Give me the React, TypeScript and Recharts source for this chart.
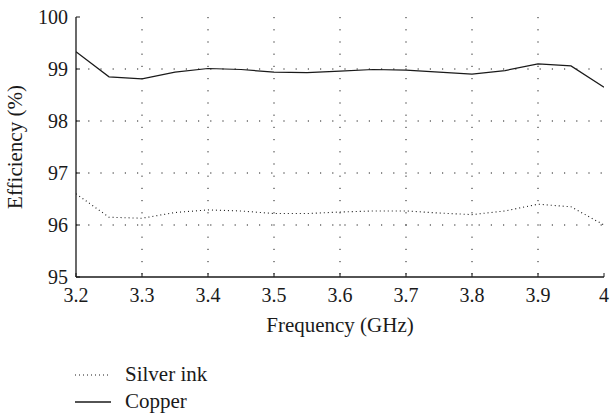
import React from 'react';
import { LineChart, Line, XAxis, YAxis, CartesianGrid, Legend } from 'recharts';

const frequency = [3.2, 3.25, 3.3, 3.35, 3.4, 3.45, 3.5, 3.55, 3.6, 3.65, 3.7, 3.75, 3.8, 3.85, 3.9, 3.95, 4.0];
const copper = [99.33, 98.85, 98.81, 98.94, 99.01, 98.99, 98.94, 98.93, 98.96, 98.99, 98.98, 98.94, 98.9, 98.97, 99.1, 99.06, 98.65];
const silverInk = [96.6, 96.15, 96.13, 96.24, 96.29, 96.27, 96.22, 96.22, 96.25, 96.27, 96.27, 96.23, 96.2, 96.27, 96.4, 96.35, 96.0];
const xTicks = [3.2, 3.3, 3.4, 3.5, 3.6, 3.7, 3.8, 3.9, 4.0];
const yTicks = [95, 96, 97, 98, 99, 100];

const data = frequency.map((f, i) => ({ f, copper: copper[i], silver: silverInk[i] }));

const FONT = '"Liberation Serif"';
const INK = '#1a1a1a';
const CSS = '#root .chart-root, #root .chart-root *, #root .chart-root text, #root .chart-root tspan, #root .chart-root span { font-family: "Liberation Serif", "Times New Roman" !important; }';

const fmtX = (v: number) => (v === 4 ? '4' : v.toFixed(1));

const LegendContent = () => (
  <div style={{ paddingLeft: 75, fontFamily: FONT, fontSize: 21, color: INK, lineHeight: '27px' }}>
    <div style={{ display: 'flex', alignItems: 'center', height: 27 }}>
      <svg width={36} height={10} style={{ marginRight: 14 }}>
        <line x1={0} y1={5} x2={36} y2={5} stroke={INK} strokeWidth={1} strokeDasharray="1 3" />
      </svg>
      <span>Silver ink</span>
    </div>
    <div style={{ display: 'flex', alignItems: 'center', height: 27 }}>
      <svg width={36} height={10} style={{ marginRight: 14 }}>
        <line x1={0} y1={5} x2={36} y2={5} stroke={INK} strokeWidth={1.3} />
      </svg>
      <span>Copper</span>
    </div>
  </div>
);

export default function App() {
  return (
    <div className="chart-root" style={{ position: 'absolute', left: 0, top: 0, width: 610, height: 415, fontFamily: FONT }}>
      <style>{CSS}</style>
      <LineChart
        width={610}
        height={415}
        data={data}
        margin={{ top: 17, right: 6, bottom: 0, left: 0 }}
        style={{ fontFamily: FONT }}
      >
        <CartesianGrid stroke={INK} strokeDasharray="1.2 11" horizontalValues={[96, 97, 98, 99]} verticalValues={[3.3, 3.4, 3.5, 3.6, 3.7, 3.8, 3.9]} />
        <XAxis
          dataKey="f"
          type="number"
          domain={[3.2, 4]}
          ticks={xTicks}
          interval={0}
          tickFormatter={fmtX}
          allowDataOverflow
          height={84}
          stroke={INK}
          axisLine={{ stroke: INK, strokeWidth: 1.3 }}
          tickSize={-4}
          tickMargin={15}
          tick={{ fill: INK, fontSize: 20, fontFamily: FONT }}
          label={{ value: 'Frequency (GHz)', position: 'insideTop', offset: 40, fill: INK, fontSize: 21, fontFamily: FONT }}
        />
        <XAxis
          xAxisId="top"
          dataKey="f"
          type="number"
          orientation="top"
          domain={[3.2, 4]}
          ticks={xTicks}
          interval={0}
          allowDataOverflow
          height={0}
          stroke={INK}
          axisLine={{ stroke: INK, strokeWidth: 1.3 }}
          tickSize={-4}
          tick={() => <g />}
        />
        <YAxis
          type="number"
          domain={[95, 100]}
          ticks={yTicks}
          interval={0}
          allowDataOverflow
          width={76}
          stroke={INK}
          axisLine={{ stroke: INK, strokeWidth: 1.3 }}
          tickSize={-4}
          tickMargin={12}
          tick={{ fill: INK, fontSize: 20, fontFamily: FONT }}
          label={{ value: 'Efficiency (%)', angle: -90, position: 'insideLeft', offset: 15, fill: INK, fontSize: 21, fontFamily: FONT, style: { textAnchor: 'middle' } }}
        />
        <YAxis
          yAxisId="right"
          type="number"
          orientation="right"
          domain={[95, 100]}
          ticks={yTicks}
          interval={0}
          allowDataOverflow
          width={0}
          stroke={INK}
          axisLine={{ stroke: INK, strokeWidth: 1.3 }}
          tickSize={-4}
          tick={() => <g />}
        />
        <Legend verticalAlign="bottom" align="left" height={54} content={<LegendContent />} />
        <Line type="linear" dataKey="silver" name="Silver ink" stroke={INK} strokeWidth={1.1} strokeDasharray="1 3" dot={false} isAnimationActive={false} />
        <Line type="linear" dataKey="copper" name="Copper" stroke={INK} strokeWidth={1.2} dot={false} isAnimationActive={false} />
      </LineChart>
    </div>
  );
}
